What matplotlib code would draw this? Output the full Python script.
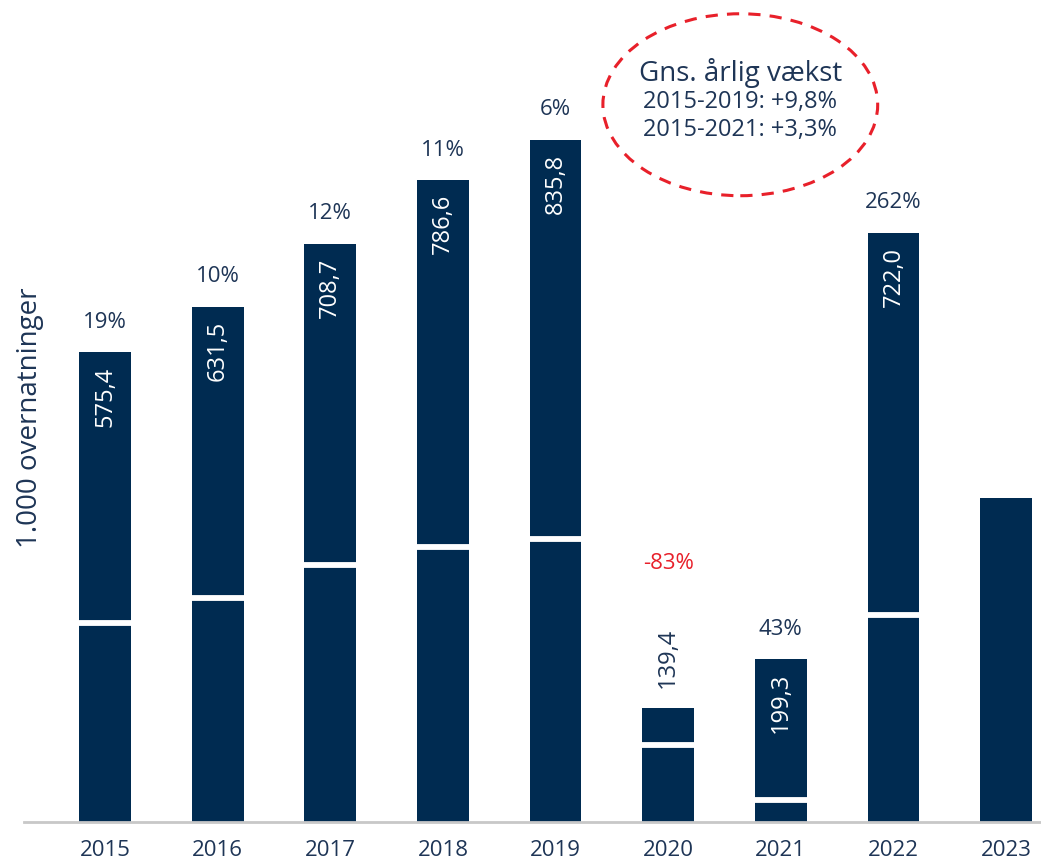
import matplotlib
matplotlib.use("Agg")
import matplotlib.pyplot as plt
from matplotlib.patches import Ellipse

years = ["2015", "2016", "2017", "2018", "2019", "2020", "2021", "2022", "2023"]
totals = [575.4, 631.5, 708.7, 786.6, 835.8, 139.4, 199.3, 722.0, 397.0]
lower = [243.6, 275.0, 314.6, 336.6, 347.0, 94.0, 27.0, 254.0, 397.0]
value_labels = ["575,4", "631,5", "708,7", "786,6", "835,8", "139,4", "199,3", "722,0", ""]
growth = ["19%", "10%", "12%", "11%", "6%", "-83%", "43%", "262%", ""]

NAVY = "#002B51"
TEXT = "#1E3556"
RED = "#E8202A"

plt.rcParams['font.family'] = ['Open Sans', 'DejaVu Sans']

fig = plt.figure(figsize=(10.41, 8.65), dpi=100)
ax = fig.add_axes([24 / 1041, 43 / 865, 1 - 24 / 1041, 822 / 865])

x = list(range(len(years)))
w = 0.46
upper = [t - l for t, l in zip(totals, lower)]
ax.bar(x, lower, width=w, color=NAVY, zorder=2)
ax.bar(x, upper, width=w, bottom=lower, color=NAVY, zorder=2)

# white split line between the two segments
for i in x:
    if upper[i] > 0:
        ax.plot([i - w / 2, i + w / 2], [lower[i], lower[i]], color="white",
                lw=4.2, solid_capstyle="butt", zorder=3)

for i in x:
    lab = value_labels[i]
    if not lab:
        continue
    if years[i] == "2020":
        ax.text(i, totals[i] + 25, lab, rotation=90, ha="center", va="bottom",
                color=TEXT, fontsize=17)
        ax.text(i, totals[i] + 165, growth[i], ha="center", va="bottom",
                color=RED, fontsize=16)
    else:
        ax.text(i, totals[i] - 17, lab, rotation=90, ha="center", va="top",
                color="white", fontsize=17)
        ax.text(i, totals[i] + 24, growth[i], ha="center", va="bottom",
                color=TEXT, fontsize=16)

ax.set_xlim(-0.72, 8.31)
ax.set_ylim(0, 822 / 0.816)

for s in ["top", "right", "left"]:
    ax.spines[s].set_visible(False)
ax.spines["bottom"].set_color("#C8C8C8")
ax.spines["bottom"].set_linewidth(2)
ax.set_yticks([])
ax.set_xticks(x)
ax.set_xticklabels(years, fontsize=16, color=TEXT)
ax.tick_params(axis="x", length=0, pad=13)

fig.text(30 / 1041, 1 - 418 / 865, "1.000 overnatninger", rotation=90,
         ha="center", va="center", fontsize=20, color=TEXT)

ell = Ellipse((5.64, 879), 2.44, 223, fill=False, edgecolor=RED, lw=2.2,
              linestyle=(0, (4, 3)), zorder=4, clip_on=False)
ax.add_patch(ell)
ax.text(5.64, (822 - 73) / 0.816, "Gns. årlig vækst", ha="center", va="center",
        fontsize=20, color=TEXT)
ax.text(5.64, (822 - 102) / 0.816, "2015-2019: +9,8%", ha="center", va="center",
        fontsize=17, color=TEXT)
ax.text(5.64, (822 - 130) / 0.816, "2015-2021: +3,3%", ha="center", va="center",
        fontsize=17, color=TEXT)

fig.savefig("out.png", dpi=100)
